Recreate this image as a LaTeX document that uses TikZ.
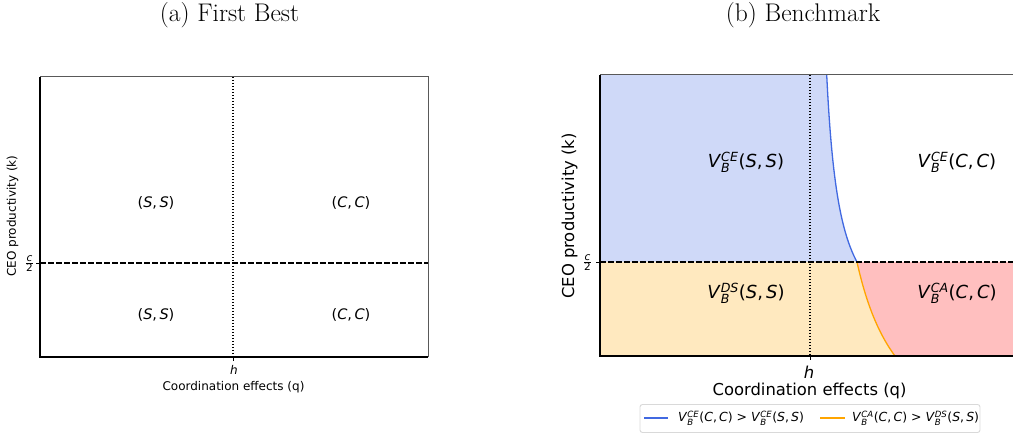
\documentclass[tikz,border=0pt]{standalone}
\usepackage{fontspec}
\newfontfamily\dvs{DejaVu Sans}
\definecolor{rblue}{RGB}{65,105,225}
\definecolor{orng}{RGB}{255,165,0}
\definecolor{fblue}{RGB}{207,217,248}
\definecolor{forng}{RGB}{255,233,191}
\definecolor{fred}{RGB}{255,191,191}
\newcommand\ssz{}
\newcommand\VB[2]{\textit{V}$^{\hbox{\ssz\itshape #1}}_{\hbox{\ssz\itshape B}}$#2}
\newcommand\pr[2]{(\textit{#1},\,\textit{#2})}
\newcommand\half{$\frac{\hbox{\itshape c}}{\hbox{2}}$}
\tikzset{
  ttl/.style={font=\fontsize{25.5}{30}\selectfont, anchor=base, inner sep=0pt},
  axsmall/.style={font=\dvs\fontsize{12}{14}\selectfont, inner sep=0pt},
  axbig/.style={font=\dvs\fontsize{16.4}{19}\selectfont, inner sep=0pt},
  hsmall/.style={font=\dvs\itshape\fontsize{12}{14}\selectfont, inner sep=0pt},
  hbig/.style={font=\dvs\itshape\fontsize{16.4}{19}\selectfont, inner sep=0pt},
  frac/.style={font=\dvs\fontsize{10.5}{10.5}\selectfont, inner sep=0pt},
  lab/.style={font=\dvs\fontsize{14.5}{17}\selectfont, inner sep=0pt},
  reg/.style={font={\def\ssz{\fontsize{12.6}{13}\selectfont}\dvs\fontsize{18}{21}\selectfont}, inner sep=0pt},
  leg/.style={font={\def\ssz{\fontsize{8.6}{9}\selectfont}\dvs\fontsize{12.5}{14}\selectfont}, inner sep=0pt, anchor=west},
  darkframe/.style={black, line width=1.1pt},
  lightframe/.style={black!65, line width=1pt},
  dashln/.style={black, line width=1.2pt, dash pattern=on 5.5pt off 2.5pt},
  dotln/.style={black, line width=1.1pt, dash pattern=on 1.1pt off 1.9pt},
  tick/.style={black, line width=0.9pt},
}
\begin{document}
\begin{tikzpicture}[x=1pt,y=-1pt]
\useasboundingbox (0,0) rectangle (1013,435);
% ---------- (a) First Best ----------
\node[ttl] (ta) at (229.5,22) {(a) First Best};
\draw[dashln] (40,263) -- (428,263);
\draw[dotln] (233,77) -- (233,357);
\draw[lightframe] (40,77) -- (428,77) -- (428,357);
\draw[darkframe] (428,357) -- (40,357) -- (40,77);
\draw[tick] (233,357) -- (233,361);
\draw[tick] (36,263) -- (40,263);
\node[lab] (a1) at (156,203) {\pr{S}{S}};
\node[lab] (a2) at (351,203) {\pr{C}{C}};
\node[lab] (a3) at (156,315) {\pr{S}{S}};
\node[lab] (a4) at (351,315) {\pr{C}{C}};
\node[hsmall] (ha) at (234,370) {h};
\node[axsmall] (xa) at (233.5,387) {Coordination effects (q)};
\node[axsmall, rotate=90] (ya) at (12.5,216) {CEO productivity (k)};
\node[frac] (fa) at (29.5,264) {\half};
% ---------- (b) Benchmark ----------
\node[ttl] (tb) at (803,22) {(b) Benchmark};
\fill[fblue] (600,75) -- plot[variable=\t, domain=281:94, samples=60] ({813.6+3515/(\t-13)},{356-\t}) -- (600,262) -- cycle;
\fill[forng] (600,262) -- plot[variable=\t, domain=94:0, samples=40] ({810.5+9715/(\t+115)},{356-\t}) -- (600,356) -- cycle;
\fill[fred] plot[variable=\t, domain=94:0, samples=40] ({810.5+9715/(\t+115)},{356-\t}) -- (1013,356) -- (1013,262) -- cycle;
\draw[rblue, line width=1.3pt] plot[variable=\t, domain=281:94, samples=60] ({813.6+3515/(\t-13)},{356-\t});
\draw[orng, line width=1.3pt] plot[variable=\t, domain=94:0, samples=40] ({810.5+9715/(\t+115)},{356-\t});
\draw[dashln] (600,262) -- (1013,262);
\draw[dotln] (810,75) -- (810,356);
\draw[lightframe] (600,75) -- (1013,75);
\draw[darkframe] (1013,356) -- (600,356) -- (600,75);
\draw[tick] (810,356) -- (810,360);
\draw[tick] (596,262) -- (600,262);
\node[reg] (b1) at (746,162) {\VB{CE}{\pr{S}{S}}};
\node[reg] (b2) at (957,162) {\VB{CE}{\pr{C}{C}}};
\node[reg] (b3) at (746,293) {\VB{DS}{\pr{S}{S}}};
\node[reg] (b4) at (957,293) {\VB{CA}{\pr{C}{C}}};
\node[hbig] (hb) at (809,372) {h};
\node[axbig] (xb) at (809.5,391) {Coordination effects (q)};
\node[axbig, rotate=90] (yb) at (569.5,216) {CEO productivity (k)};
\node[frac] (fb) at (587.5,263) {\half};
% legend
\draw[black!15, line width=0.9pt, fill=white, rounded corners=2.5pt] (640,404.5) rectangle (980,432.5);
\coordinate (l1a) at (644,418); \coordinate (l1b) at (668,418);
\coordinate (l2a) at (820,418); \coordinate (l2b) at (845,418);
\draw[rblue, line width=1.3pt] (l1a) -- (l1b);
\draw[orng, line width=1.3pt] (l2a) -- (l2b);
\node[leg] (lg1) at (678,418) {\VB{CE}{\pr{C}{C}} > \VB{CE}{\pr{S}{S}}};
\node[leg] (lg2) at (852,418) {\VB{CA}{\pr{C}{C}} > \VB{DS}{\pr{S}{S}}};
\end{tikzpicture}
\end{document}
